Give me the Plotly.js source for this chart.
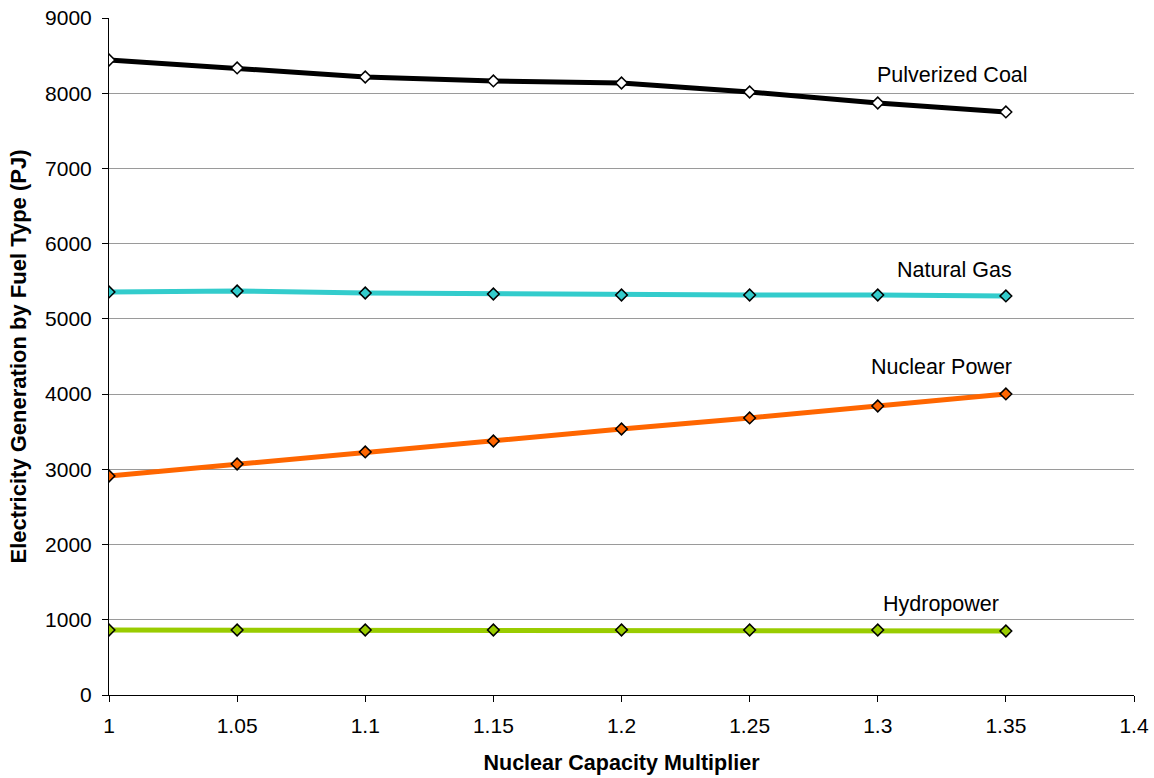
<!DOCTYPE html>
<html>
<head>
<meta charset="utf-8">
<script src="https://cdn.plot.ly/plotly-3.0.1.min.js"></script>
<style>html,body{margin:0;padding:0;background:#fff;}#chart{width:1154px;height:778px;}</style>
</head>
<body>
<div id="chart"></div>
<script>
const multipliers = [1, 1.05, 1.1, 1.15, 1.2, 1.25, 1.3, 1.35];
const pulverizedCoal = [8442, 8336, 8216, 8163, 8136, 8016, 7870, 7751];
const naturalGas = [5358, 5371, 5344, 5331, 5318, 5318, 5318, 5305];
const nuclearPower = [2911, 3071, 3231, 3377, 3536, 3683, 3842, 4002];
const hydropower = [864, 864, 864, 864, 864, 864, 864, 851];
const seriesNames = ["Pulverized Coal", "Natural Gas", "Nuclear Power", "Hydropower"];
const xTicks = [1, 1.05, 1.1, 1.15, 1.2, 1.25, 1.3, 1.35, 1.4];
const xTickText = ["1", "1.05", "1.1", "1.15", "1.2", "1.25", "1.3", "1.35", "1.4"];
const yTicks = [0, 1000, 2000, 3000, 4000, 5000, 6000, 7000, 8000, 9000];

function mk(y, color, fill) {
  return {
    x: multipliers, y: y, type: 'scatter', mode: 'lines+markers',
    line: {color: color, width: 5},
    marker: {symbol: 'diamond', size: 9, color: fill, line: {color: '#000', width: 1.5}},
    showlegend: false, hoverinfo: 'x+y'
  };
}
const data = [
  mk(pulverizedCoal, '#000000', '#ffffff'),
  mk(naturalGas, '#33CCCC', '#33CCCC'),
  mk(nuclearPower, '#FF6600', '#FF6600'),
  mk(hydropower, '#99CC00', '#99CC00')
];
const FF = 'Liberation Sans, Arial, sans-serif';
const lblFont = {family: FF, size: 21.5, color: '#000'};
const layout = {
  width: 1154, height: 778,
  margin: {l: 109, r: 20, t: 18, b: 83},
  paper_bgcolor: '#fff', plot_bgcolor: '#fff',
  font: {family: FF, size: 21, color: '#000'},
  xaxis: {
    range: [1, 1.4], tickvals: xTicks, ticktext: xTickText,
    showgrid: false, zeroline: false, showline: true, linecolor: '#000', linewidth: 1,
    ticks: 'outside', ticklen: 6, tickcolor: '#000', tickfont: {size: 21}, ticklabelstandoff: 6,
    title: {text: '<b>Nuclear Capacity Multiplier</b>', font: {size: 21.5}, standoff: 18}
  },
  yaxis: {
    range: [0, 9000], tickvals: yTicks,
    showgrid: true, gridcolor: '#9a9a9a', gridwidth: 1,
    zeroline: false, showline: true, linecolor: '#000', linewidth: 1,
    ticks: 'outside', ticklen: 6, tickcolor: '#000', tickfont: {size: 21}, ticklabelstandoff: 6,
    title: {text: '<b>Electricity Generation by Fuel Type (PJ)</b>', font: {size: 22}, standoff: 12}
  },
  annotations: [
    {x: 1.329, y: 8242, text: seriesNames[0], showarrow: false, xanchor: 'center', yanchor: 'middle', font: lblFont},
    {x: 1.3298, y: 5650, text: seriesNames[1], showarrow: false, xanchor: 'center', yanchor: 'middle', font: lblFont},
    {x: 1.3247, y: 4360, text: seriesNames[2], showarrow: false, xanchor: 'center', yanchor: 'middle', font: lblFont},
    {x: 1.3247, y: 1210, text: seriesNames[3], showarrow: false, xanchor: 'center', yanchor: 'middle', font: lblFont}
  ]
};
Plotly.newPlot('chart', data, layout, {displayModeBar: false, staticPlot: true});
</script>
</body>
</html>
